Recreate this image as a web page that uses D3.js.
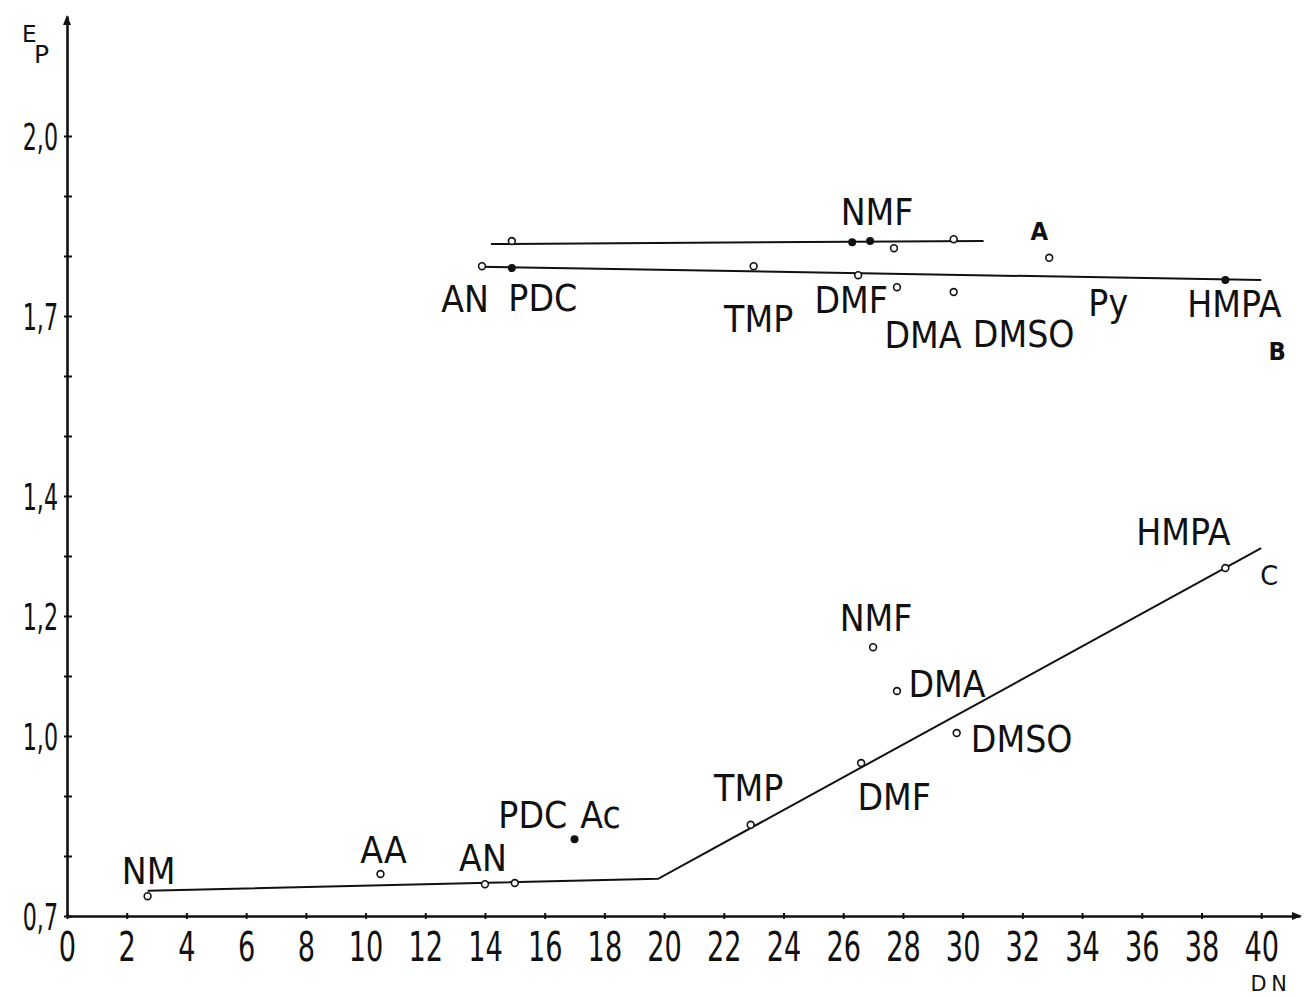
<!DOCTYPE html>
<html>
<head>
<meta charset="utf-8">
<script src="https://cdn.jsdelivr.net/npm/d3@7"></script>
<style>
  html, body { margin: 0; padding: 0; background: #fff; }
  svg { display: block; }
  text { font-family: "DejaVu Sans", "Liberation Sans", sans-serif; fill: #111; }
</style>
</head>
<body>
<svg id="chart" width="1307" height="997"></svg>
<script>
// ---- axis ticks -------------------------------------------------------
const dnTicks = d3.range(0, 41, 2);                       // donor number DN
const epTicks = [0.7, 0.8, 0.9, 1.0, 1.1, 1.2, 1.3, 1.4, 1.5, 1.6, 1.7, 1.8, 1.9, 2.0];
const epLabelled = [0.7, 1.0, 1.2, 1.4, 1.7, 2.0];

// ---- series C (lower branch) -------------------------------------------
const cNames  = ["NM", "AA", "AN", "PDC", "Ac", "TMP", "DMF", "NMF", "DMA", "DMSO", "HMPA"];
const cDN     = [2.7, 10.5, 14.0, 15.0, 17.0, 22.9, 26.6, 27.0, 27.8, 29.8, 38.8];
const cEP     = [0.733, 0.770, 0.753, 0.755, 0.828, 0.852, 0.955, 1.148, 1.075, 1.005, 1.280];
const cFilled = [false, false, false, false, true, false, false, false, false, false, false];
const cLineDN = [2.7, 19.8, 40.0];
const cLineEP = [0.742, 0.762, 1.313];

// ---- series B (upper, lower line) --------------------------------------
const bNames  = ["AN", "PDC", "TMP", "DMF", "DMA", "DMSO", "HMPA"];
const bDN     = [13.9, 14.9, 23.0, 26.5, 27.8, 29.7, 38.8];
const bEP     = [1.783, 1.780, 1.783, 1.768, 1.748, 1.740, 1.760];
const bFilled = [false, true, false, false, false, false, true];
const bLineDN = [13.8, 40.0];
const bLineEP = [1.782, 1.760];
const bPyDN   = 33.1;                                      // Py, labelled on the line

// ---- series A (upper, top line) ----------------------------------------
const aNames  = ["PDC", "DMF", "NMF", "DMA", "DMSO", "Py"];
const aDN     = [14.9, 26.3, 26.9, 27.7, 29.7, 32.9];
const aEP     = [1.825, 1.823, 1.825, 1.813, 1.828, 1.797];
const aFilled = [false, true, true, false, false, false];
const aLineDN = [14.2, 30.7];
const aLineEP = [1.820, 1.825];

// ---- layout -------------------------------------------------------------
const svg = d3.select("#chart");
const ink = "#111";
const x = d3.scaleLinear().domain([0, 41.3]).range([67, 1300]);
const y = d3.scaleLinear().domain([0.7, 2.2]).range([916, 16]);
const commaFmt = d3.formatLocale({ decimal: ",", thousands: ".", grouping: [3], currency: ["", ""] }).format(".1f");

const CAP = 0.729;   // cap height of the face, in em

// text centred (on its capitals) at cx, cy, squeezed horizontally by sx
function caption(g, str, cx, cy, fs, sx, opts = {}) {
  const t = g.append("text")
    .attr("transform", `translate(${cx},${cy + CAP * fs / 2}) scale(${sx},1)`)
    .attr("text-anchor", opts.anchor || "middle")
    .style("font-size", fs + "px")
    .style("font-weight", opts.weight || "normal")
    .text(str);
  if (opts.spacing) t.style("letter-spacing", opts.spacing + "px");
  return t;
}

// ---- axes -----------------------------------------------------------------
const xAxis = d3.axisBottom(x).tickValues(dnTicks).tickSizeOuter(0).tickFormat(d3.format("d"));
const gx = svg.append("g").attr("transform", `translate(0,${y(0.7)})`).call(xAxis);
gx.select(".domain").attr("stroke", ink).attr("stroke-width", 2.6);
gx.selectAll(".tick line").attr("stroke", ink).attr("stroke-width", 2).attr("y1", -3).attr("y2", 3);
gx.selectAll(".tick text")
  .attr("y", 45).attr("dy", null)
  .attr("transform", "scale(0.68,1)")
  .attr("fill", ink)
  .style("font-size", "40px")
  .style("font-family", "DejaVu Sans, sans-serif");

const yAxis = d3.axisLeft(y).tickValues(epTicks).tickSizeOuter(0)
  .tickFormat(v => epLabelled.some(l => Math.abs(l - v) < 1e-9) ? commaFmt(v) : "");
const gy = svg.append("g").attr("transform", `translate(${x(0)},0)`).call(yAxis);
gy.select(".domain").attr("stroke", ink).attr("stroke-width", 2.6);
gy.selectAll(".tick line").attr("stroke", ink).attr("stroke-width", 2).attr("x1", -3).attr("x2", 5);
gy.selectAll(".tick text")
  .attr("x", -9 / 0.6).attr("dy", "0.36em")
  .attr("transform", "scale(0.6,1)")
  .attr("fill", ink)
  .style("font-size", "37px")
  .style("font-family", "DejaVu Sans, sans-serif");

// arrow heads
svg.append("path")
  .attr("d", `M${x(0) - 4},${y(2.2) + 9} L${x(0)},${y(2.2) - 1} L${x(0) + 4},${y(2.2) + 9} Z`)
  .attr("fill", ink);
svg.append("path")
  .attr("d", `M${x(41.3) - 8},${y(0.7) - 4} L${x(41.3) + 2},${y(0.7)} L${x(41.3) - 8},${y(0.7) + 4} Z`)
  .attr("fill", ink);

// axis titles
const titles = svg.append("g");
const ep = titles.append("text").attr("x", 22).attr("y", 42);
ep.append("tspan").style("font-size", "23px").text("E");
ep.append("tspan").attr("x", 34).attr("y", 63).style("font-size", "25px").text("P");
caption(titles, "DN", 1271, 983, 22, 0.95, { spacing: 5 });

// ---- data ---------------------------------------------------------------
const line = d3.line().x(d => x(d[0])).y(d => y(d[1]));

function drawSeries(names, dns, eps, filled, lineDN, lineEP) {
  const g = svg.append("g");
  g.append("path")
    .datum(d3.zip(lineDN, lineEP))
    .attr("d", line)
    .attr("fill", "none")
    .attr("stroke", ink)
    .attr("stroke-width", 2);
  const pts = names.map((n, i) => ({ name: n, dn: dns[i], ep: eps[i], filled: filled[i] }));
  g.selectAll("circle").data(pts).join("circle")
    .attr("cx", d => x(d.dn))
    .attr("cy", d => y(d.ep))
    .attr("r", d => d.filled ? 3.2 : 3.4)
    .attr("fill", d => d.filled ? ink : "#fff")
    .attr("stroke", ink)
    .attr("stroke-width", 1.6);
  return { g, pts };
}

const sC = drawSeries(cNames, cDN, cEP, cFilled, cLineDN, cLineEP);
const sB = drawSeries(bNames, bDN, bEP, bFilled, bLineDN, bLineEP);
const sA = drawSeries(aNames, aDN, aEP, aFilled, aLineDN, aLineEP);

// label placement: pixel offset of each label centre from its marker
const cLabelOffset = {
  NM: [1, -26], AA: [3, -24], AN: [-2, -27], PDC: [18, -68], Ac: [26, -25], TMP: [-2, -37],
  DMF: [33, 34], NMF: [3, -30], DMA: [50, -7], DMSO: [65, 6], HMPA: [-42, -36]
};
const bLabelOffset = {
  AN: [-17, 32], PDC: [31, 30], TMP: [5, 52], DMF: [-7, 24], DMA: [26, 47], DMSO: [70, 42], HMPA: [9, 24]
};
const aLabelOffset = { NMF: [7, -29] };

const labels = svg.append("g");
function labelSeries(pts, offsets) {
  pts.forEach(p => {
    const o = offsets[p.name];
    if (!o) return;
    caption(labels, p.name, x(p.dn) + o[0], y(p.ep) + o[1], 37, 0.9);
  });
}
labelSeries(sC.pts, cLabelOffset);
labelSeries(sB.pts, bLabelOffset);
labelSeries(sA.pts, aLabelOffset);

// Py on line B
const bAt = d3.scaleLinear().domain(bLineDN).range(bLineEP);
caption(labels, "Py", x(bPyDN) + 53, y(bAt(bPyDN)) + 26, 37, 0.9);

// series letters
const pyA = sA.pts.find(p => p.name === "Py");
caption(labels, "A", x(pyA.dn) - 10, y(pyA.ep) - 27, 24, 0.95, { weight: "bold" });
caption(labels, "B", x(bLineDN[1]) + 16, y(bLineEP[1]) + 71, 24, 0.95, { weight: "bold" });
caption(labels, "C", x(cLineDN[2]) + 8, y(cLineEP[2]) + 27, 27, 0.95);
</script>
</body>
</html>
